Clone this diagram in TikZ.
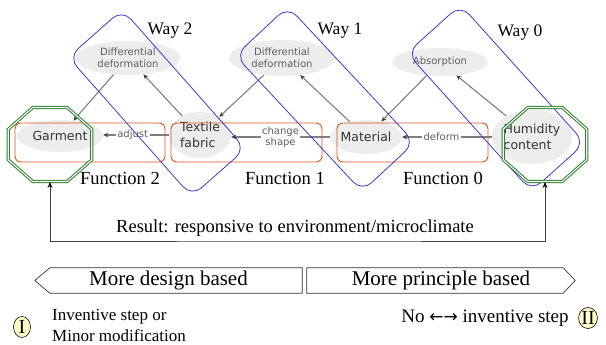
\documentclass[tikz,border=0pt]{standalone}
\usepackage{fontspec}
\setmainfont{Liberation Serif}
\newfontfamily\vsans{DejaVu Sans}
\newfontfamily\arrowfont{DejaVu Sans}
\usetikzlibrary{shapes.geometric,arrows.meta,calc}
\definecolor{ellgray}{HTML}{EDEDED}
\definecolor{ntext}{HTML}{333333}
\definecolor{stext}{HTML}{5E5E5E}
\definecolor{agray}{HTML}{7F7F7F}
\definecolor{ahead}{HTML}{404040}
\definecolor{fred}{HTML}{D9541E}
\definecolor{wblue}{HTML}{3A3AD0}
\definecolor{ogreen}{HTML}{2A7F2A}
\definecolor{yfill}{HTML}{FFFFC8}
\begin{document}
\begin{tikzpicture}[x=1pt,y=-1pt,
  gell/.style={ellipse, fill=ellgray, inner sep=0pt, text=ntext,
    font=\vsans\fontsize{12.5}{15.5}\selectfont},
  sell/.style={ellipse, fill=ellgray, inner sep=0pt, text=stext, align=center,
    font=\vsans\fontsize{10}{12}\selectfont},
  elabel/.style={fill=white, inner sep=1.5pt, text=stext, align=center,
    font=\vsans\fontsize{10}{12}\selectfont},
  garrow/.style={draw=agray, line width=1.1pt, -{Stealth[length=5pt,width=4.5pt,color=ahead]}},
  redbox/.style={draw=fred, line width=0.9pt, rounded corners=6pt, inner sep=0pt},
  waybox/.style={draw=wblue, line width=0.8pt, rounded corners=13pt, inner sep=0pt,
    minimum width=186pt, minimum height=72pt},
  oct/.style={draw=ogreen, double=white, double distance=1.1pt, line width=1pt,
    regular polygon, regular polygon sides=8, minimum size=80pt, inner sep=0pt, xscale=1.13},
  serifl/.style={font=\fontsize{18.5}{21}\selectfont},
  bshape/.style={draw=black!80, line width=0.7pt},
  rn/.style={ellipse, draw=black, line width=0.6pt, fill=yfill, inner sep=0pt,
    minimum width=17pt, minimum height=21pt, font=\fontsize{20}{22}\selectfont}
]
\useasboundingbox (0,0) rectangle (606,345);

% grey ellipses
\node[gell, minimum width=86pt, minimum height=32pt] (garment) at (60,136) {Garment};
\node[gell, minimum width=62pt, minimum height=46pt, align=left] (textile) at (200,135) {Textile\\fabric};
\node[gell, minimum width=68pt, minimum height=34pt] (material) at (366,137) {Material};
\node[gell, minimum width=80pt, minimum height=54pt, align=left] (humid) at (532,137) {Humidity\\content};
\node[sell, minimum width=105pt, minimum height=34pt] (diff1) at (128,58) {Differential\\deformation};
\node[sell, minimum width=106pt, minimum height=36pt] (diff2) at (282,58) {Differential\\deformation};
\node[sell, minimum width=95pt, minimum height=28pt] (absorb) at (440,62) {Absorption};

% grey arrows
\draw[garrow] (diff1) -- (garment);
\draw[garrow] (textile) -- (diff1);
\draw[garrow] (diff2) -- (textile);
\draw[garrow] (material) -- (diff2);
\draw[garrow] (absorb) -- (material);
\draw[garrow] (humid) -- (absorb);
\draw[garrow] (textile.west) -- node[elabel, pos=0.55] {adjust} (textile.west -| garment.east);
\draw[garrow] (material.west) -- node[elabel] {change\\[-1pt]shape} (material.west -| textile.east);
\draw[garrow] (humid.west) -- node[elabel, pos=0.56] {deform} (material.east);

% function boxes
\node[redbox, minimum width=150pt, minimum height=39pt] (f2) at (90,142.5) {};
\node[redbox, minimum width=151pt, minimum height=39pt] (f1) at (246.5,142.5) {};
\node[redbox, minimum width=151pt, minimum height=39pt] (f0) at (412.5,142.5) {};
\node[serifl] (fl2) at (120,178) {Function 2};
\node[serifl] (fl1) at (285,178) {Function 1};
\node[serifl] (fl0) at (443,178) {Function 0};

% ways
\node[waybox, rotate=-48.5] (w2) at (157,103) {};
\node[waybox, rotate=-47] (w1) at (325,99) {};
\node[waybox, rotate=-48] (w0) at (496,98) {};
\node[font=\fontsize{17.5}{20}\selectfont] (wl2) at (170,31) {Way 2};
\node[font=\fontsize{17.5}{20}\selectfont] (wl1) at (340,31) {Way 1};
\node[font=\fontsize{17.5}{20}\selectfont] (wl0) at (520,33) {Way 0};

% octagons
\node[oct] (octL) at (50,144.5) {};
\node[oct] (octR) at (545,144.5) {};

% result loop
\coordinate (rb) at (300,241);
\draw[draw=black!75, line width=0.9pt, {Stealth[length=6pt,width=5pt,color=black]}-{Stealth[length=6pt,width=5pt,color=black]}]
  (octL.south) |- (rb) -| (octR.south);
\node[serifl] (res) at (295,228) {Result: responsive to environment/microclimate};

% bottom shapes
\node[minimum width=267pt, minimum height=25pt, inner sep=0pt, font=\fontsize{21}{24}\selectfont] (design) at (168.5,280.5) {More design based};
\draw[bshape] (design.north east) -- (design.south east) -- ($(design.south west)+(15,0)$)
  -- (design.west) -- ($(design.north west)+(15,0)$) -- cycle;
\node[minimum width=268pt, minimum height=25pt, inner sep=0pt, font=\fontsize{21}{24}\selectfont] (principle) at (441,280.5) {More principle based};
\draw[bshape] (principle.north west) -- ($(principle.north east)+(-12,0)$) -- (principle.east)
  -- ($(principle.south east)+(-12,0)$) -- (principle.south west) -- cycle;

\node[rn] (c1) at (22,327) {I};
\node[anchor=west, align=left, inner sep=0pt, font=\fontsize{17}{21}\selectfont] (inv) at (52,325) {Inventive step or\\Minor modification};
\node[font=\fontsize{19}{21}\selectfont, inner sep=0pt] (noinv) at (485,318) {No {\arrowfont\fontsize{17}{20}\selectfont ←→} inventive step};
\node[rn] (c2) at (588,318) {II};
\end{tikzpicture}
\end{document}
